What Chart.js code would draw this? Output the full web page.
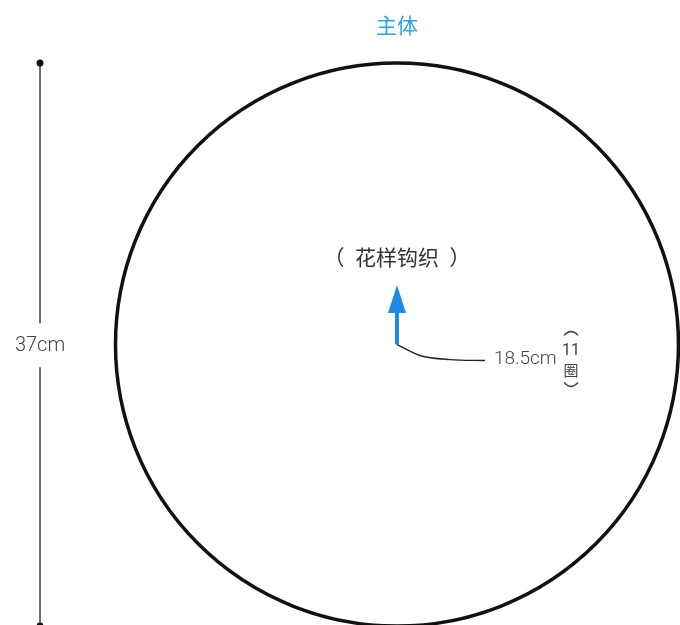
<!DOCTYPE html>
<html>
<head>
<meta charset="utf-8">
<script src="https://cdn.jsdelivr.net/npm/chart.js@4/dist/chart.umd.min.js"></script>
<style>
  html, body { margin: 0; padding: 0; background: #fff; }
  #wrap { width: 680px; height: 625px; position: relative; }
</style>
</head>
<body>
<div id="wrap"><canvas id="chart"></canvas></div>
<script>
// diagram values, in cm
const RADIUS_CM = 18.5;
const HEIGHT_CM = 37;
const ROUNDS = 11;

const circleCenter = [{x: 0, y: 0}];
const dimTop = [{x: -23.46, y: 18.5}, {x: -23.46, y: 1.4}];
const dimBottom = [{x: -23.46, y: -1.5}, {x: -23.46, y: -18.5}];
const leaderCurve = [{x: 0, y: 0}, {x: 1.5, y: -0.72}, {x: 3.5, y: -0.99}, {x: 5.78, y: -1.05}];
const arrowShaft = [{x: 0, y: 0}, {x: 0, y: 2.1}];
const arrowTip = [{x: 0, y: 2.99}];

const titleText = '主体';
const patternText = '花样钩织';
const heightText = HEIGHT_CM + 'cm';
const radiusText = RADIUS_CM + 'cm';
const roundsText = String(ROUNDS);
const roundsUnit = '圈';

const BLUE = '#1c8be3';
const TITLE_BLUE = '#2aa3da';
const INK = '#111';
const CJK = '"Noto Sans CJK SC", "Noto Sans", sans-serif';
const LATIN = 'Roboto, "Liberation Sans", sans-serif';

function arrowHead() {
  const c = document.createElement('canvas');
  c.width = 18; c.height = 28;
  const g = c.getContext('2d');
  g.fillStyle = BLUE;
  g.beginPath();
  g.moveTo(9, 0);
  g.lineTo(18, 28);
  g.lineTo(0, 28);
  g.closePath();
  g.fill();
  return c;
}

// text + small brackets, placed with the chart scales
const diagramText = {
  id: 'diagramText',
  afterDatasetsDraw(chart) {
    const {ctx, scales: {x, y}} = chart;
    const px = v => x.getPixelForValue(v);
    const py = v => y.getPixelForValue(v);
    ctx.save();
    ctx.textBaseline = 'middle';

    ctx.textAlign = 'center';
    ctx.fillStyle = TITLE_BLUE;
    ctx.font = '21px ' + CJK;
    ctx.fillText(titleText, px(0), py(21.0));

    // pattern label with loose full-width brackets
    ctx.fillStyle = '#333';
    ctx.font = '21px ' + CJK;
    ctx.fillText(patternText, px(0), py(5.75));
    ctx.textAlign = 'right';
    ctx.fillText('（', px(-3.45), py(5.75));
    ctx.textAlign = 'left';
    ctx.fillText('）', px(3.45), py(5.75));

    ctx.textAlign = 'center';
    ctx.fillStyle = '#444';
    ctx.font = '300 20px ' + LATIN;
    ctx.fillText(heightText, px(-23.46), py(-0.1));

    ctx.textAlign = 'left';
    ctx.font = '300 19px ' + LATIN;
    ctx.fillText(radiusText, px(6.37), py(-0.95));

    ctx.textAlign = 'center';
    ctx.font = '16px ' + LATIN;
    ctx.fillText(roundsText, px(11.44), py(-0.43));
    ctx.font = '15px ' + CJK;
    ctx.fillText(roundsUnit, px(11.44), py(-1.68));

    // vertical brackets around "11 圈"
    ctx.strokeStyle = '#444';
    ctx.lineWidth = 1.4;
    const bx = px(11.44);
    ctx.beginPath();
    ctx.moveTo(bx - 7, py(0.6));
    ctx.quadraticCurveTo(bx, py(0.85) - 4, bx + 7, py(0.6));
    ctx.stroke();
    ctx.beginPath();
    ctx.moveTo(bx - 7, py(-2.5));
    ctx.quadraticCurveTo(bx, py(-2.75) + 4, bx + 7, py(-2.5));
    ctx.stroke();
    ctx.restore();
  }
};

const config = {
  type: 'scatter',
  data: {
    datasets: [
      {
        label: 'outline',
        data: circleCenter,
        pointRadius: ctx => {
          const s = ctx.chart.scales.x;
          return s.getPixelForValue(RADIUS_CM) - s.getPixelForValue(0);
        },
        pointBorderWidth: 3.5,
        pointBorderColor: INK,
        pointBackgroundColor: 'rgba(0,0,0,0)'
      },
      {
        label: 'height top',
        data: dimTop,
        showLine: true,
        borderColor: '#222',
        borderWidth: 1.3,
        pointRadius: ctx => ctx.dataIndex === 0 ? 3.5 : 0,
        pointBackgroundColor: '#111',
        pointBorderWidth: 0
      },
      {
        label: 'height bottom',
        data: dimBottom,
        showLine: true,
        borderColor: '#222',
        borderWidth: 1.3,
        pointRadius: ctx => ctx.dataIndex === 1 ? 3.5 : 0,
        pointBackgroundColor: '#111',
        pointBorderWidth: 0
      },
      {
        label: 'leader',
        data: leaderCurve,
        showLine: true,
        borderColor: '#222',
        borderWidth: 1.4,
        cubicInterpolationMode: 'monotone',
        pointRadius: 0
      },
      {
        label: 'shaft',
        data: arrowShaft,
        showLine: true,
        borderColor: BLUE,
        borderWidth: 4,
        pointRadius: 0
      },
      {
        label: 'tip',
        data: arrowTip,
        pointStyle: arrowHead(),
        pointRadius: 10
      }
    ]
  },
  options: {
    animation: false,
    responsive: true,
    maintainAspectRatio: false,
    events: [],
    layout: { padding: 0, autoPadding: false },
    plugins: {
      legend: { display: false },
      tooltip: { enabled: false },
      title: { display: false }
    },
    scales: {
      x: { type: 'linear', display: false, min: -26.09, max: 18.60 },
      y: { type: 'linear', display: false, min: -18.43, max: 22.64 }
    }
  },
  plugins: [diagramText]
};

const chart = new Chart(document.getElementById('chart'), config);
</script>
</body>
</html>
